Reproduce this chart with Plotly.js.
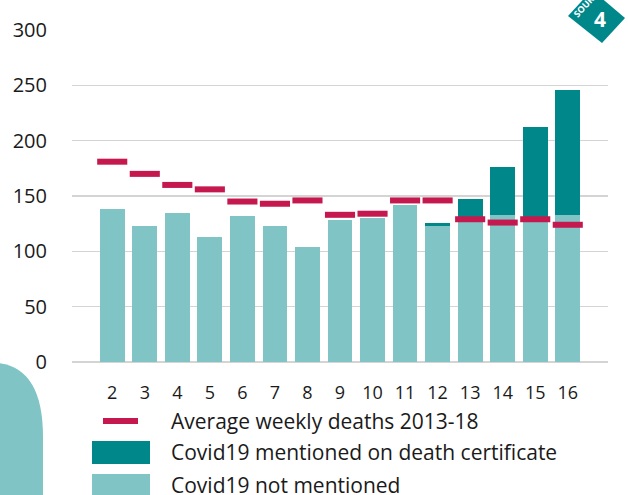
<!DOCTYPE html>
<html>
<head>
<meta charset="utf-8">
<script src="https://cdn.plot.ly/plotly-3.0.1.min.js"></script>
<style>html,body{margin:0;padding:0;background:#fff;}#chart{width:628px;height:495px;}</style>
</head>
<body>
<div id="chart"></div>
<script>
// ---- data ----
var weeks = ["2","3","4","5","6","7","8","9","10","11","12","13","14","15","16"];
var covidNotMentioned = [138,123,135,113,132,123,104,128,130,142,123,127,133,127,133];
var covidMentioned    = [0,0,0,0,0,0,0,0,0,0,3,20,43,85,113];
var avgWeekly2013_18  = [181,170,160,156,145,143,146,133,134,146,146,129,126,129,124];
var legendLabels = ["Average weekly deaths 2013-18","Covid19 mentioned on death certificate","Covid19 not mentioned"];
var yTicks = [0,50,100,150,200,250,300];
var badgeNumber = "4";
var badgeWord = "SOURCE";

// ---- styling ----
var W = 628, H = 495;
var M = {l:72, r:20, t:30, b:133};
var PW = W - M.l - M.r, PH = H - M.t - M.b;
function px(x){ return (x - M.l) / PW; }
function py(y){ return (H - M.b - y) / PH; }

var LIGHT = '#80c4c6', DARK = '#00878a', RED = '#c4184f', TXT = '#1a1a1a';
var FONT = 'Open Sans, Noto Sans, sans-serif';

var traces = [
  {type:'bar', x:weeks, y:covidNotMentioned, name:legendLabels[2],
   marker:{color:LIGHT, line:{width:0}}, hoverinfo:'skip', showlegend:false},
  {type:'bar', x:weeks, y:covidMentioned, name:legendLabels[1],
   marker:{color:DARK, line:{width:0}}, hoverinfo:'skip', showlegend:false},
  {type:'scatter', mode:'markers', x:weeks, y:avgWeekly2013_18, name:legendLabels[0],
   marker:{symbol:'line-ew', size:21.5, color:RED, line:{color:RED, width:6}},
   hoverinfo:'skip', showlegend:false, cliponaxis:false}
];

function rectP(x0,y0,x1,y1,color){
  return {type:'rect', xref:'paper', yref:'paper', x0:px(x0), x1:px(x1), y0:py(y1), y1:py(y0),
          fillcolor:color, line:{width:0}, layer:'above'};
}
function P(x,y){ return px(x).toFixed(5)+','+py(y).toFixed(5); }

var shapes = [
  // legend swatches
  rectP(103,418,138,424,RED),
  rectP(92,441,150,464,DARK),
  rectP(92,474,150,500,LIGHT),
  // bottom-left decorative shape
  {type:'path', xref:'paper', yref:'paper', layer:'below',
   path:'M'+P(-2,363)+' Q'+P(43,368)+' '+P(43,437)+' L'+P(43,500)+' L'+P(-2,500)+' Z',
   fillcolor:LIGHT, line:{width:0}},
  // badge (rotated rectangle)
  {type:'path', xref:'paper', yref:'paper', layer:'above',
   path:'M'+P(568,16)+' L'+P(592,-10)+' L'+P(625,18)+' L'+P(602,43)+' Z',
   fillcolor:DARK, line:{width:0}}
];

var annotations = [];
var legY = [421, 452, 485];
for (var i=0;i<3;i++){
  annotations.push({xref:'paper', yref:'paper', x:px(169), y:py(legY[i]), xanchor:'left', yanchor:'middle',
    text:legendLabels[i], showarrow:false, font:{family:FONT, size:21, color:TXT}});
}
annotations.push({xref:'paper', yref:'paper', x:px(600), y:py(19), xanchor:'center', yanchor:'middle',
  text:'<b>'+badgeNumber+'</b>', showarrow:false, font:{family:FONT, size:21, color:'#ffffff'}});
annotations.push({xref:'paper', yref:'paper', x:px(587), y:py(2), xanchor:'center', yanchor:'middle',
  text:'<b>'+badgeWord+'</b>', textangle:-47, showarrow:false, font:{family:FONT, size:9, color:'#ffffff'}});

var layout = {
  width:W, height:H,
  margin:M,
  paper_bgcolor:'#ffffff', plot_bgcolor:'#ffffff',
  font:{family:FONT, color:TXT},
  barmode:'stack', bargap:0.24,
  showlegend:false,
  xaxis:{type:'category', showgrid:false, zeroline:false, showline:false,
         ticks:'outside', ticklen:14, tickcolor:'rgba(0,0,0,0)',
         tickfont:{family:FONT, size:18, color:TXT}, fixedrange:true},
  yaxis:{range:[0,300], tickvals:yTicks, showgrid:true, gridcolor:'#d4d4d4', gridwidth:1.5,
         zeroline:true, zerolinecolor:'#d4d4d4', zerolinewidth:1.5, showline:false,
         ticks:'outside', ticklen:20, tickcolor:'rgba(0,0,0,0)',
         tickfont:{family:FONT, size:20, color:TXT}, fixedrange:true},
  shapes:shapes,
  annotations:annotations
};

Plotly.newPlot('chart', traces, layout, {staticPlot:true, displayModeBar:false});
</script>
</body>
</html>
